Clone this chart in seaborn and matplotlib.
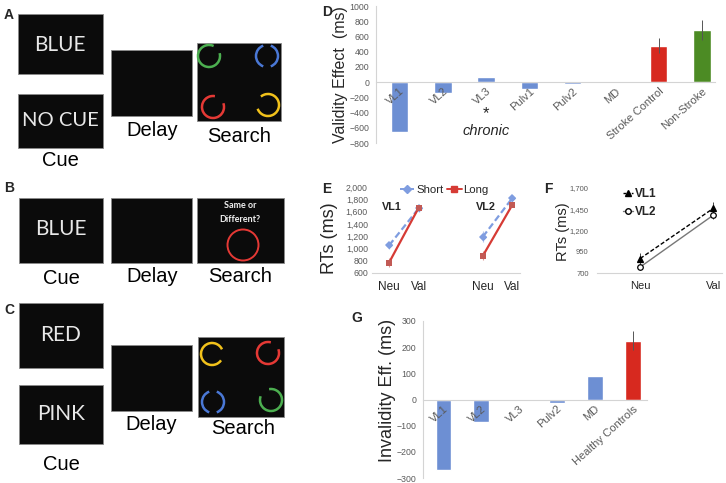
import numpy as np
import pandas as pd
import seaborn as sns
import matplotlib.pyplot as plt
from matplotlib.patches import Rectangle, Arc
from matplotlib.lines import Line2D

# ---- panel D: validity effect
d_labels = ["VL1", "VL2", "VL3", "Pulv1", "Pulv2", "MD", "Stroke Control", "Non-Stroke"]
d_values = [-650, -145, 70, -85, -20, -5, 480, 680]
d_err = [0, 0, 0, 0, 0, 0, 100, 130]
d_colors = ["#6d8fd3"] * 6 + ["#d7291f", "#4c8b24"]

# ---- panel E: RTs by cue duration
e_groups = ["VL1", "VL2"]
e_conds = ["Neu", "Val"]
e_short = [[1050, 1650], [1190, 1820]]
e_short_err = [[60, 50], [90, 50]]
e_long = [[770, 1660], [880, 1710]]
e_long_err = [[70, 40], [70, 40]]

# ---- panel F: RTs VL1 vs VL2
f_conds = ["Neu", "Val"]
f_vl1 = [870, 1460]
f_vl1_err = [60, 70]
f_vl2 = [770, 1380]
f_vl2_err = [40, 40]

# ---- panel G: invalidity effect
g_labels = ["VL1", "VL2", "VL3", "Pulv2", "MD", "Healthy Controls"]
g_values = [-270, -85, -3, -15, 90, 225]
g_err = [0, 0, 0, 0, 0, 35]
g_colors = ["#6d8fd3"] * 5 + ["#d7291f"]

sns.set_style("white")
plt.rcParams["font.family"] = ["Liberation Sans", "DejaVu Sans"]

W, H = 726, 483
fig = plt.figure(figsize=(W / 100, H / 100), dpi=100)


def px_axes(left, top, right, bottom):
    return fig.add_axes([left / W, 1 - bottom / H, (right - left) / W, (bottom - top) / H])


GRAY = "#5a5a5a"
LIGHT = "#d4d4d4"

# ---------------- schematic panels A-C (pixel space overlay)
sk = fig.add_axes([0, 0, 1, 1])
sk.set_xlim(0, W)
sk.set_ylim(0, H)
sk.axis("off")


def box(x0, y0, x1, y1):
    sk.add_patch(Rectangle((x0, H - y1), x1 - x0, y1 - y0, facecolor="#0b0b0b",
                           edgecolor="#8a8a8a", linewidth=0.6))


def word(x, y, s, size=14.5, color="black", **kw):
    sk.text(x, H - y, s, fontsize=size, color=color, ha="center", va="center", **kw)


def ring(x, y, color, gaps):
    # draw a circle made of arcs, leaving out the given angular gaps
    pts = sorted(gaps)
    for i, (g0, g1) in enumerate(pts):
        nxt = pts[(i + 1) % len(pts)][0] + (360 if i + 1 == len(pts) else 0)
        sk.add_patch(Arc((x, H - y), 22, 22, theta1=g1, theta2=nxt, color=color, linewidth=1.8))


CUE_FONT = ["Lato", "DejaVu Sans"]

# A
sk.text(4, H - 15, "A", fontsize=10, fontweight="bold", ha="left", va="center")
box(18, 14, 103, 74)
word(60, 45, "BLUE", 15, "#e8e8e8", family=CUE_FONT)
box(18, 94, 103, 148)
word(60, 120, "NO CUE", 14.5, "#e8e8e8", family=CUE_FONT)
word(60, 160, "Cue")
box(111, 50, 192, 116)
word(152, 130, "Delay")
box(197, 43, 281, 121)
word(239, 136, "Search")
ring(209, 56, "#4caf50", [(15, 65)])
ring(267, 56, "#4a78d6", [(70, 110), (250, 290)])
ring(213, 107, "#e53935", [(20, 80)])
ring(268, 105, "#f2c21b", [(130, 200)])

# B
sk.text(4, H - 188, "B", fontsize=10, fontweight="bold", ha="left", va="center")
box(19, 198, 103, 263)
word(61, 229, "BLUE", 15, "#e8e8e8", family=CUE_FONT)
word(61, 278, "Cue")
box(111, 198, 192, 263)
word(152, 276, "Delay")
box(197, 198, 284, 263)
word(240, 276, "Search")
word(240, 205, "Same or", 6.5, "#f0f0f0", family=CUE_FONT, fontweight="bold")
word(240, 220, "Different?", 6.5, "#f0f0f0", family=CUE_FONT, fontweight="bold")
sk.add_patch(Arc((243, H - 245), 31, 31, theta1=0, theta2=360, color="#e53935", linewidth=1.4))

# C
sk.text(4, H - 310, "C", fontsize=10, fontweight="bold", ha="left", va="center")
box(19, 303, 103, 368)
word(61, 335, "RED", 15, "#e8e8e8", family=CUE_FONT)
box(19, 385, 103, 444)
word(61, 414, "PINK", 15, "#e8e8e8", family=CUE_FONT)
word(61, 464, "Cue")
box(111, 345, 192, 411)
word(151, 425, "Delay")
box(198, 337, 284, 417)
word(243, 429, "Search")
ring(212, 354, "#f2c21b", [(-35, 25)])
ring(268, 353, "#e53935", [(20, 75)])
ring(213, 402, "#4a78d6", [(70, 110), (250, 290)])
ring(271, 400, "#4caf50", [(100, 160)])


# ---------------- bar chart helper
def bar_panel(ax, labels, values, errs, colors, ylim, yticks, xlim):
    df = pd.DataFrame({"label": labels, "value": values})
    sns.barplot(data=df, x="label", y="value", hue="label", palette=colors,
                width=0.4, legend=False, ax=ax, saturation=1)
    for i, (v, e) in enumerate(zip(values, errs)):
        if e > 0:
            ax.errorbar(i, v, yerr=e, color="#555555", linewidth=0.7, capsize=0)
    ax.set_ylim(*ylim)
    ax.set_xlim(*xlim)
    ax.set_yticks(yticks)
    ax.set_xlabel("")
    ax.set_axisbelow(False)
    sns.despine(ax=ax)
    ax.spines["left"].set_color(LIGHT)
    ax.spines["bottom"].set_color(LIGHT)
    ax.spines["bottom"].set_position(("data", 0))
    ax.tick_params(axis="y", length=0, labelsize=6.3, labelcolor=GRAY, pad=5)
    ax.tick_params(axis="x", length=0, labelsize=8, labelcolor=GRAY, pad=3)
    for lab in ax.get_xticklabels():
        lab.set_rotation(42)
        lab.set_ha("right")
        lab.set_va("top")
        lab.set_rotation_mode("anchor")


# ---------------- D
axD = px_axes(376, 6, 715, 143)
bar_panel(axD, d_labels, d_values, d_err, d_colors, (-800, 1000),
          np.arange(-800, 1001, 200), (-0.55, 7.3))
axD.set_ylabel("Validity Effect  (ms)", fontsize=11.5)
axD.yaxis.set_label_coords(-0.082, 0.5)
axD.text(2, -420, "*", fontsize=12, ha="center", va="center")
axD.text(2, -640, "chronic", fontsize=10.5, style="italic", ha="center", va="center")
fig.text(327 / W, 1 - 12 / H, "D", fontsize=10, fontweight="bold", ha="center", va="center")

# ---------------- E
axE = px_axes(372, 187, 520, 273)
e_rows = []
for gi, grp in enumerate(e_groups):
    for ci, cond in enumerate(e_conds):
        pos = gi * 3.18 + ci
        e_rows.append({"pos": pos, "group": grp, "cond": cond, "dur": "Short",
                       "rt": e_short[gi][ci], "err": e_short_err[gi][ci]})
        e_rows.append({"pos": pos, "group": grp, "cond": cond, "dur": "Long",
                       "rt": e_long[gi][ci], "err": e_long_err[gi][ci]})
edf = pd.DataFrame(e_rows)
e_pal = {"Short": "#7f9de0", "Long": "#d63b35"}
sns.lineplot(data=edf, x="pos", y="rt", hue="dur", style="dur", units="group",
             estimator=None, palette=e_pal, markers={"Short": "D", "Long": "s"},
             dashes={"Short": (3, 1.5), "Long": ""}, linewidth=1.6, markersize=4,
             markeredgewidth=0, legend=False, ax=axE)
for dur, mcol in [("Short", "#7f9de0"), ("Long", "#c25a55")]:
    sub = edf[edf["dur"] == dur]
    axE.errorbar(sub["pos"], sub["rt"], yerr=sub["err"], fmt="none",
                 ecolor=mcol, elinewidth=0.8, alpha=0.6)
    axE.scatter(sub["pos"], sub["rt"], marker="D" if dur == "Short" else "s",
                s=14, color=mcol, zorder=4, linewidths=0)
axE.set_ylim(600, 2000)
axE.set_xlim(-0.58, 4.44)
axE.set_yticks(np.arange(600, 2001, 200))
axE.set_yticklabels([f"{v:,}" for v in range(600, 2001, 200)])
axE.set_xticks(sorted(edf["pos"].unique()))
axE.set_xticklabels(e_conds * 2)
axE.set_xticks([0.5, 2.1, 3.7], minor=True)
axE.set_xlabel("")
axE.set_ylabel("RTs (ms)", fontsize=13)
axE.yaxis.set_label_coords(-0.23, 0.41)
sns.despine(ax=axE)
axE.spines["left"].set_visible(False)
axE.spines["bottom"].set_color(LIGHT)
axE.tick_params(axis="y", length=0, labelsize=6.3, labelcolor=GRAY, pad=3)
axE.tick_params(axis="x", which="major", length=0, labelsize=8.5, pad=6)
axE.tick_params(axis="x", which="minor", length=3, color=LIGHT, width=0.8)
for gi, grp in enumerate(e_groups):
    axE.text(gi * 3.18 + 0.1, 1680, grp, fontsize=7.8, fontweight="bold", ha="center", va="center")
e_handles = [Line2D([], [], color="#7f9de0", linestyle=(0, (3, 1.5)), marker="D", markersize=4, lw=1.4),
             Line2D([], [], color="#d63b35", marker="s", markersize=4, lw=1.4)]
fig.legend(e_handles, ["Short", "Long"], loc="center", bbox_to_anchor=(444 / W, 1 - 190 / H),
           ncol=2, frameon=False, fontsize=8.2, handlelength=1.3, handletextpad=0.15,
           columnspacing=0.3, borderpad=0)
fig.text(327 / W, 1 - 189 / H, "E", fontsize=10, fontweight="bold", ha="center", va="center")

# ---------------- F
axF = px_axes(597, 188, 722, 273)
fdf = pd.DataFrame({"pos": [0, 1, 0, 1],
                    "cond": f_conds * 2,
                    "grp": ["VL1"] * 2 + ["VL2"] * 2,
                    "rt": f_vl1 + f_vl2,
                    "err": f_vl1_err + f_vl2_err})
sns.lineplot(data=fdf, x="pos", y="rt", hue="grp", style="grp", estimator=None,
             palette={"VL1": "black", "VL2": "#777777"},
             dashes={"VL1": (3, 1.5), "VL2": ""}, markers=False,
             linewidth=1.0, legend=False, ax=axF)
for grp, mk, fc in [("VL1", "^", "black"), ("VL2", "o", "white")]:
    sub = fdf[fdf["grp"] == grp]
    axF.errorbar(sub["pos"], sub["rt"], yerr=sub["err"], fmt=mk, color="black",
                 markerfacecolor=fc, markeredgecolor="black", markersize=4,
                 markeredgewidth=0.9, elinewidth=0.7, ecolor="#444444", zorder=4)
axF.set_ylim(700, 1700)
axF.set_xlim(-0.59, 1.12)
axF.set_yticks(np.arange(700, 1701, 250))
axF.set_yticklabels([f"{v:,}" for v in range(700, 1701, 250)])
axF.set_xticks([0, 1])
axF.set_xticklabels(f_conds)
axF.set_xticks([0.5], minor=True)
axF.set_xlabel("")
axF.set_ylabel("RTs (ms)", fontsize=10.5)
axF.yaxis.set_label_coords(-0.22, 0.49)
sns.despine(ax=axF)
axF.spines["left"].set_visible(False)
axF.spines["bottom"].set_color(LIGHT)
axF.tick_params(axis="y", length=0, labelsize=5.5, labelcolor=GRAY, pad=6)
axF.tick_params(axis="x", which="major", length=0, labelsize=8, pad=6)
axF.tick_params(axis="x", which="minor", length=3, color=LIGHT, width=0.8)
f_handles = [Line2D([], [], color="black", linestyle=(0, (2, 1)), marker="^", markersize=4, lw=1),
             Line2D([], [], color="#777777", marker="o", markerfacecolor="white",
                    markeredgecolor="black", markersize=4, lw=1)]
leg = axF.legend(f_handles, ["VL1", "VL2"], loc="upper left", bbox_to_anchor=(0.12, 1.12),
                 frameon=False, handlelength=0.9, handletextpad=0.1, labelspacing=0.5,
                 prop={"weight": "bold", "size": 8.5})
fig.text(548 / W, 1 - 189 / H, "F", fontsize=10, fontweight="bold", ha="center", va="center")

# ---------------- G
axG = px_axes(423, 321, 647, 478)
bar_panel(axG, g_labels, g_values, g_err, g_colors, (-300, 300),
          np.arange(-300, 301, 100), (-0.53, 5.37))
axG.set_ylabel("Invalidity Eff. (ms)", fontsize=13)
axG.yaxis.set_label_coords(-0.12, 0.555)
fig.text(357 / W, 1 - 318 / H, "G", fontsize=10, fontweight="bold", ha="center", va="center")

fig.savefig("out.png", dpi=100)
